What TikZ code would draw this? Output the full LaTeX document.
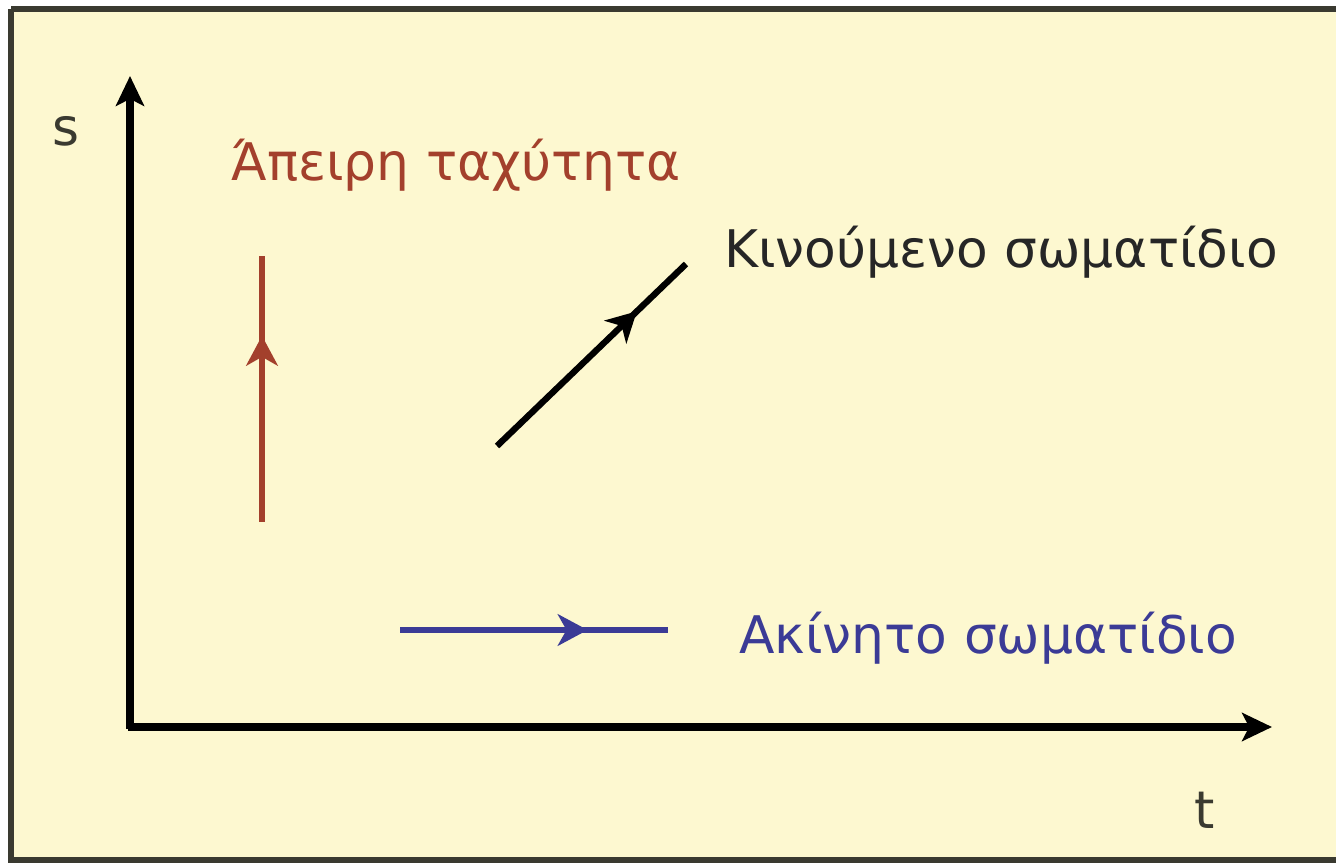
\documentclass[tikz,border=0pt]{standalone}
\usepackage{fontspec}
\setmainfont{DejaVu Sans}
\usetikzlibrary{arrows.meta,decorations.markings}
\definecolor{bg}{HTML}{FDF8D0}
\definecolor{frame}{HTML}{3A3A30}
\definecolor{redc}{HTML}{A3402C}
\definecolor{bluec}{HTML}{3B3B96}
\tikzset{
  axis/.style={line width=4.3pt, -{Stealth[length=17pt,width=16pt,inset=4pt]}},
  mid/.style={decoration={markings,mark=at position #1 with {\arrow{Stealth[length=17pt,width=18pt,inset=5pt]}}},postaction={decorate}},
  seg/.style={line width=3.6pt},
  lbl/.style={font=\fontsize{29.5}{32}\selectfont, inner sep=0pt, anchor=west},
}
\begin{document}
\begin{tikzpicture}[x=0.02cm,y=-0.02cm]
\useasboundingbox (0,0) rectangle (1336,864);
\fill[white] (0,0) rectangle (1336,864);
\fill[bg] (11,9) rectangle (1340,860);
\draw[frame, line width=3.6pt] (11,9) -- (1340,9);
\draw[frame, line width=3.6pt] (11,9) -- (11,860) -- (1340,860);
% axes
\coordinate (O) at (128,727);
\coordinate (ytop) at (130,76);
\coordinate (xend) at (1272,727);
\draw[axis] (130,729) -- (ytop);
\draw[axis] (O) -- (xend);
\node[font=\fontsize{29.5}{32}\selectfont, text=frame] (s) at (66,131) {s};
\node[font=\fontsize{29.5}{32}\selectfont, text=frame] (t) at (1205,810) {t};
% red vertical
\coordinate (r1) at (262,522);
\coordinate (r2) at (262,256);
\draw[seg, redc, mid=0.70] (r1) -- (r2);
\node[lbl, text=redc] (rt) at (231,165) {Άπειρη ταχύτητα};
% black diagonal
\coordinate (k1) at (497,446);
\coordinate (k2) at (686,264);
\draw[seg, black, mid=0.74] (k1) -- (k2);
\node[lbl, text=black!85] (kt) at (724,252) {Κινούμενο σωματίδιο};
% blue horizontal
\coordinate (b1) at (400,630);
\coordinate (b2) at (668,630);
\draw[seg, bluec, mid=0.70] (b1) -- (b2);
\node[lbl, text=bluec] (bt) at (739,638) {Ακίνητο σωματίδιο};
\end{tikzpicture}
\end{document}
